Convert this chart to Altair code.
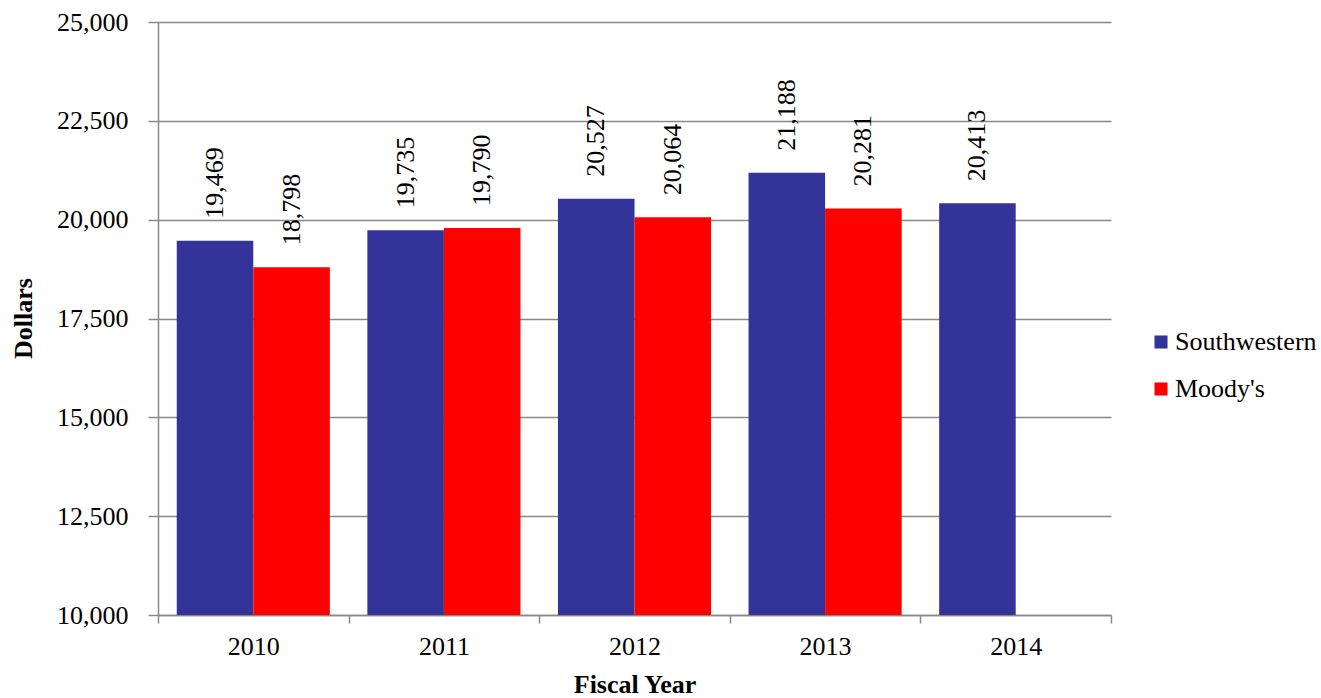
import altair as alt
import pandas as pd

years = ["2010", "2011", "2012", "2013", "2014"]
series_names = ["Southwestern", "Moody's"]
southwestern = [19469, 19735, 20527, 21188, 20413]
moodys = [18798, 19790, 20064, 20281, None]
y_ticks = [10000, 12500, 15000, 17500, 20000, 22500, 25000]
colors = ["#333399", "#FF0000"]

rows = []
for i, yr in enumerate(years):
    for name, vals in zip(series_names, [southwestern, moodys]):
        if vals[i] is not None:
            rows.append({"year": yr, "series": name, "value": vals[i]})
df = pd.DataFrame(rows)

FONT = "Liberation Serif"
GRID = "#888888"
FS = 26

x_axis = alt.Axis(labelAngle=0, tickBand="extent", tickSize=8,
                  tickColor=GRID, tickWidth=1.5, domainColor=GRID,
                  domainWidth=1.5, grid=False, labelPadding=10,
                  labelFont=FONT, labelFontSize=FS, labelColor="black",
                  titleFont=FONT, titleFontSize=FS, titleFontWeight="bold",
                  titleColor="black", titlePadding=12)
y_axis = alt.Axis(values=y_ticks, format=",",
                  labelExpr="format(datum.value, ',')",
                  grid=True, gridColor=GRID,
                  gridWidth=1.5, domainColor=GRID, domainWidth=1.5,
                  tickColor=GRID, tickWidth=1.5, tickSize=10, labelPadding=20,
                  labelFont=FONT, labelFontSize=FS, labelColor="black",
                  titleFont=FONT, titleFontSize=FS, titleFontWeight="bold",
                  titleColor="black", titleAngle=270, titleX=-135, titleY=296,
                  titleAlign="center", titleBaseline="middle")
x_scale = alt.Scale(paddingInner=0, paddingOuter=0)
xo_scale = alt.Scale(domain=series_names, paddingOuter=0.245, paddingInner=0)
y_scale = alt.Scale(domain=[10000, 25000], nice=False, zero=False)

base = alt.Chart(df)

bars = base.mark_bar().encode(
    x=alt.X("year:N", sort=years, title="Fiscal Year", scale=x_scale, axis=x_axis),
    xOffset=alt.XOffset("series:N", sort=series_names, scale=xo_scale),
    y=alt.Y("value:Q", title="Dollars", scale=y_scale, axis=y_axis),
    y2=alt.datum(10000),
    color=alt.Color("series:N", scale=alt.Scale(domain=series_names, range=colors),
                    legend=alt.Legend(title=None, orient="none", legendX=990, legendY=307,
                                      symbolType="square", symbolSize=170,
                                      symbolStrokeWidth=0, labelFont=FONT,
                                      labelFontSize=FS, labelColor="black",
                                      rowPadding=21, labelOffset=1)),
)

labels = base.mark_text(angle=270, align="left", baseline="middle", dx=22,
                        font=FONT, fontSize=FS, color="black").encode(
    x=alt.X("year:N", sort=years, title="Fiscal Year", scale=x_scale, axis=x_axis),
    xOffset=alt.XOffset("series:N", sort=series_names, scale=xo_scale),
    y=alt.Y("value:Q", title="Dollars", scale=y_scale, axis=y_axis),
    text=alt.Text("value:Q", format=","),
)

chart = alt.layer(bars, labels).properties(
    width=953, height=593,
    background="white",
    autosize=alt.AutoSizeParams(type="none"),
    padding={"left": 158, "top": 22, "right": 210, "bottom": 83},
).configure_view(stroke="transparent", strokeWidth=0)

chart.save("out.html", embed_options={"renderer": "svg", "actions": False})
